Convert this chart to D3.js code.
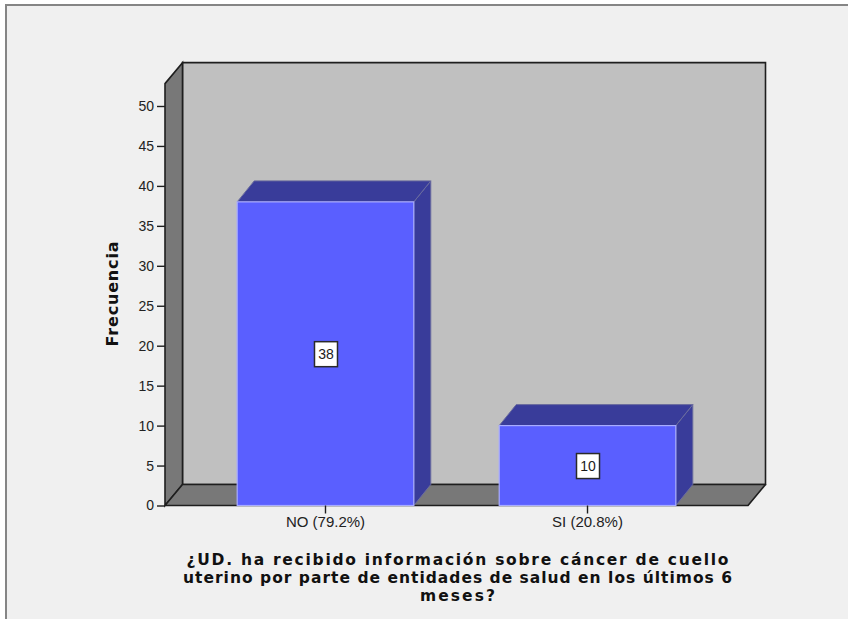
<!DOCTYPE html>
<html>
<head>
<meta charset="utf-8">
<script src="https://cdn.jsdelivr.net/npm/d3@7"></script>
<style>
  html, body { margin: 0; padding: 0; background: #ffffff; }
  svg { display: block; }
</style>
</head>
<body>
<svg id="chart" width="848" height="619"></svg>
<script>
// Survey answers and their counts
const categories = ["NO (79.2%)", "SI (20.8%)"];
const counts = [38, 10];
const yTicks = [0, 5, 10, 15, 20, 25, 30, 35, 40, 45, 50];
const yLabel = "Frecuencia";
const titleLines = [
  "¿UD. ha recibido información sobre cáncer de cuello",
  "uterino por parte de entidades de salud en los últimos 6",
  "meses?"
];

const svg = d3.select("#chart");

// Chart frame
svg.append("rect")
  .attr("x", 6).attr("y", 5).attr("width", 900).attr("height", 700)
  .attr("fill", "#f0f0f0").attr("stroke", "#858585").attr("stroke-width", 2);

// Front plane geometry and 3D depth offset
const x0 = 165, x1 = 748;
const dx = 17.5, dy = -21;
const y = d3.scaleLinear().domain([0, 50]).range([505.5, 106]);
const x = d3.scaleBand().domain(categories).range([x0, x1])
  .paddingInner(0.326).paddingOuter(0.2755);
const yBase = y(0);
const yWallTop = y(52.8);

const line = d3.line();

// Back wall
svg.append("path")
  .attr("d", line([[x0 + dx, yWallTop + dy], [x1 + dx, yWallTop + dy], [x1 + dx, yBase + dy], [x0 + dx, yBase + dy]]) + "Z")
  .attr("fill", "#c0c0c0").attr("stroke", "#1e1e1e").attr("stroke-width", 1.6);

// Left wall
svg.append("path")
  .attr("d", line([[x0, yWallTop], [x0 + dx, yWallTop + dy], [x0 + dx, yBase + dy], [x0, yBase]]) + "Z")
  .attr("fill", "#787878").attr("stroke", "#1e1e1e").attr("stroke-width", 1.6);

// Floor
svg.append("path")
  .attr("d", line([[x0, yBase], [x0 + dx, yBase + dy], [x1 + dx, yBase + dy], [x1, yBase]]) + "Z")
  .attr("fill", "#787878").attr("stroke", "#1e1e1e").attr("stroke-width", 1.6)
  .attr("stroke-linejoin", "round");

// Bars
const bdx = 17, bdy = -21;
const bars = svg.append("g").selectAll("g").data(categories).join("g");

bars.each(function (c, i) {
  const g = d3.select(this);
  const L = x(c), R = x(c) + x.bandwidth();
  const T = y(counts[i]), B = y(0);
  // side face
  g.append("path")
    .attr("d", line([[R, T], [R + bdx, T + bdy], [R + bdx, B + bdy], [R, B]]) + "Z")
    .attr("fill", "#393c9a").attr("stroke", "#6a6c9e").attr("stroke-width", 1);
  // top face
  g.append("path")
    .attr("d", line([[L, T], [L + bdx, T + bdy], [R + bdx, T + bdy], [R, T]]) + "Z")
    .attr("fill", "#393c9a").attr("stroke", "#6a6c9e").attr("stroke-width", 1);
  // front face
  g.append("rect")
    .attr("x", L).attr("y", T).attr("width", R - L).attr("height", B - T)
    .attr("fill", "#5a5fff").attr("stroke", "#a8acff").attr("stroke-width", 1.2);
});

// Value labels in boxes
const labels = svg.append("g").selectAll("g").data(categories).join("g")
  .attr("transform", (c, i) => `translate(${x(c) + x.bandwidth() / 2},${(y(counts[i]) + y(0)) / 2})`);
labels.append("rect")
  .attr("x", -11).attr("y", -12).attr("width", 23).attr("height", 25)
  .attr("fill", "#ffffff").attr("stroke", "#2a2a2a").attr("stroke-width", 1.5);
labels.append("text")
  .attr("text-anchor", "middle").attr("dy", "0.36em").attr("x", 0.5).attr("y", 0.5)
  .attr("font-family", "Liberation Sans, Arial, sans-serif").attr("font-size", 14)
  .attr("fill", "#1a1a1a")
  .text((c, i) => counts[i]);

// Y axis
const yAxis = svg.append("g")
  .attr("transform", `translate(${x0},0)`)
  .call(d3.axisLeft(y).tickValues(yTicks).tickSize(8).tickPadding(3));
yAxis.select(".domain").remove();
yAxis.selectAll("line").attr("stroke", "#1e1e1e").attr("stroke-width", 1.4);
yAxis.selectAll("text")
  .attr("font-family", "Liberation Sans, Arial, sans-serif").attr("font-size", 14)
  .attr("fill", "#222");

// X axis
const xAxis = svg.append("g")
  .attr("transform", `translate(0,${yBase})`)
  .call(d3.axisBottom(x).tickSize(8).tickPadding(3));
xAxis.select(".domain").remove();
xAxis.selectAll("line").attr("stroke", "#1e1e1e").attr("stroke-width", 1.4);
xAxis.selectAll("text")
  .attr("font-family", "Liberation Sans, Arial, sans-serif").attr("font-size", 15)
  .attr("fill", "#222");

// Y axis title
svg.append("text")
  .attr("transform", "translate(118,294) rotate(-90)")
  .attr("text-anchor", "middle")
  .attr("font-family", "DejaVu Sans, sans-serif").attr("font-weight", "bold")
  .attr("font-size", 16).attr("fill", "#111")
  .attr("textLength", 105).attr("lengthAdjust", "spacing")
  .text(yLabel);

// X axis title, each line fitted to its set width
const titleWidths = [542, 549, 75];
svg.append("g").selectAll("text").data(titleLines).join("text")
  .attr("text-anchor", "middle")
  .attr("font-family", "DejaVu Sans, sans-serif").attr("font-weight", "bold")
  .attr("font-size", 15.5).attr("fill", "#111")
  .attr("x", 457.5).attr("y", (d, i) => 565 + i * 18)
  .attr("textLength", (d, i) => titleWidths[i]).attr("lengthAdjust", "spacing")
  .text(d => d);
</script>
</body>
</html>
